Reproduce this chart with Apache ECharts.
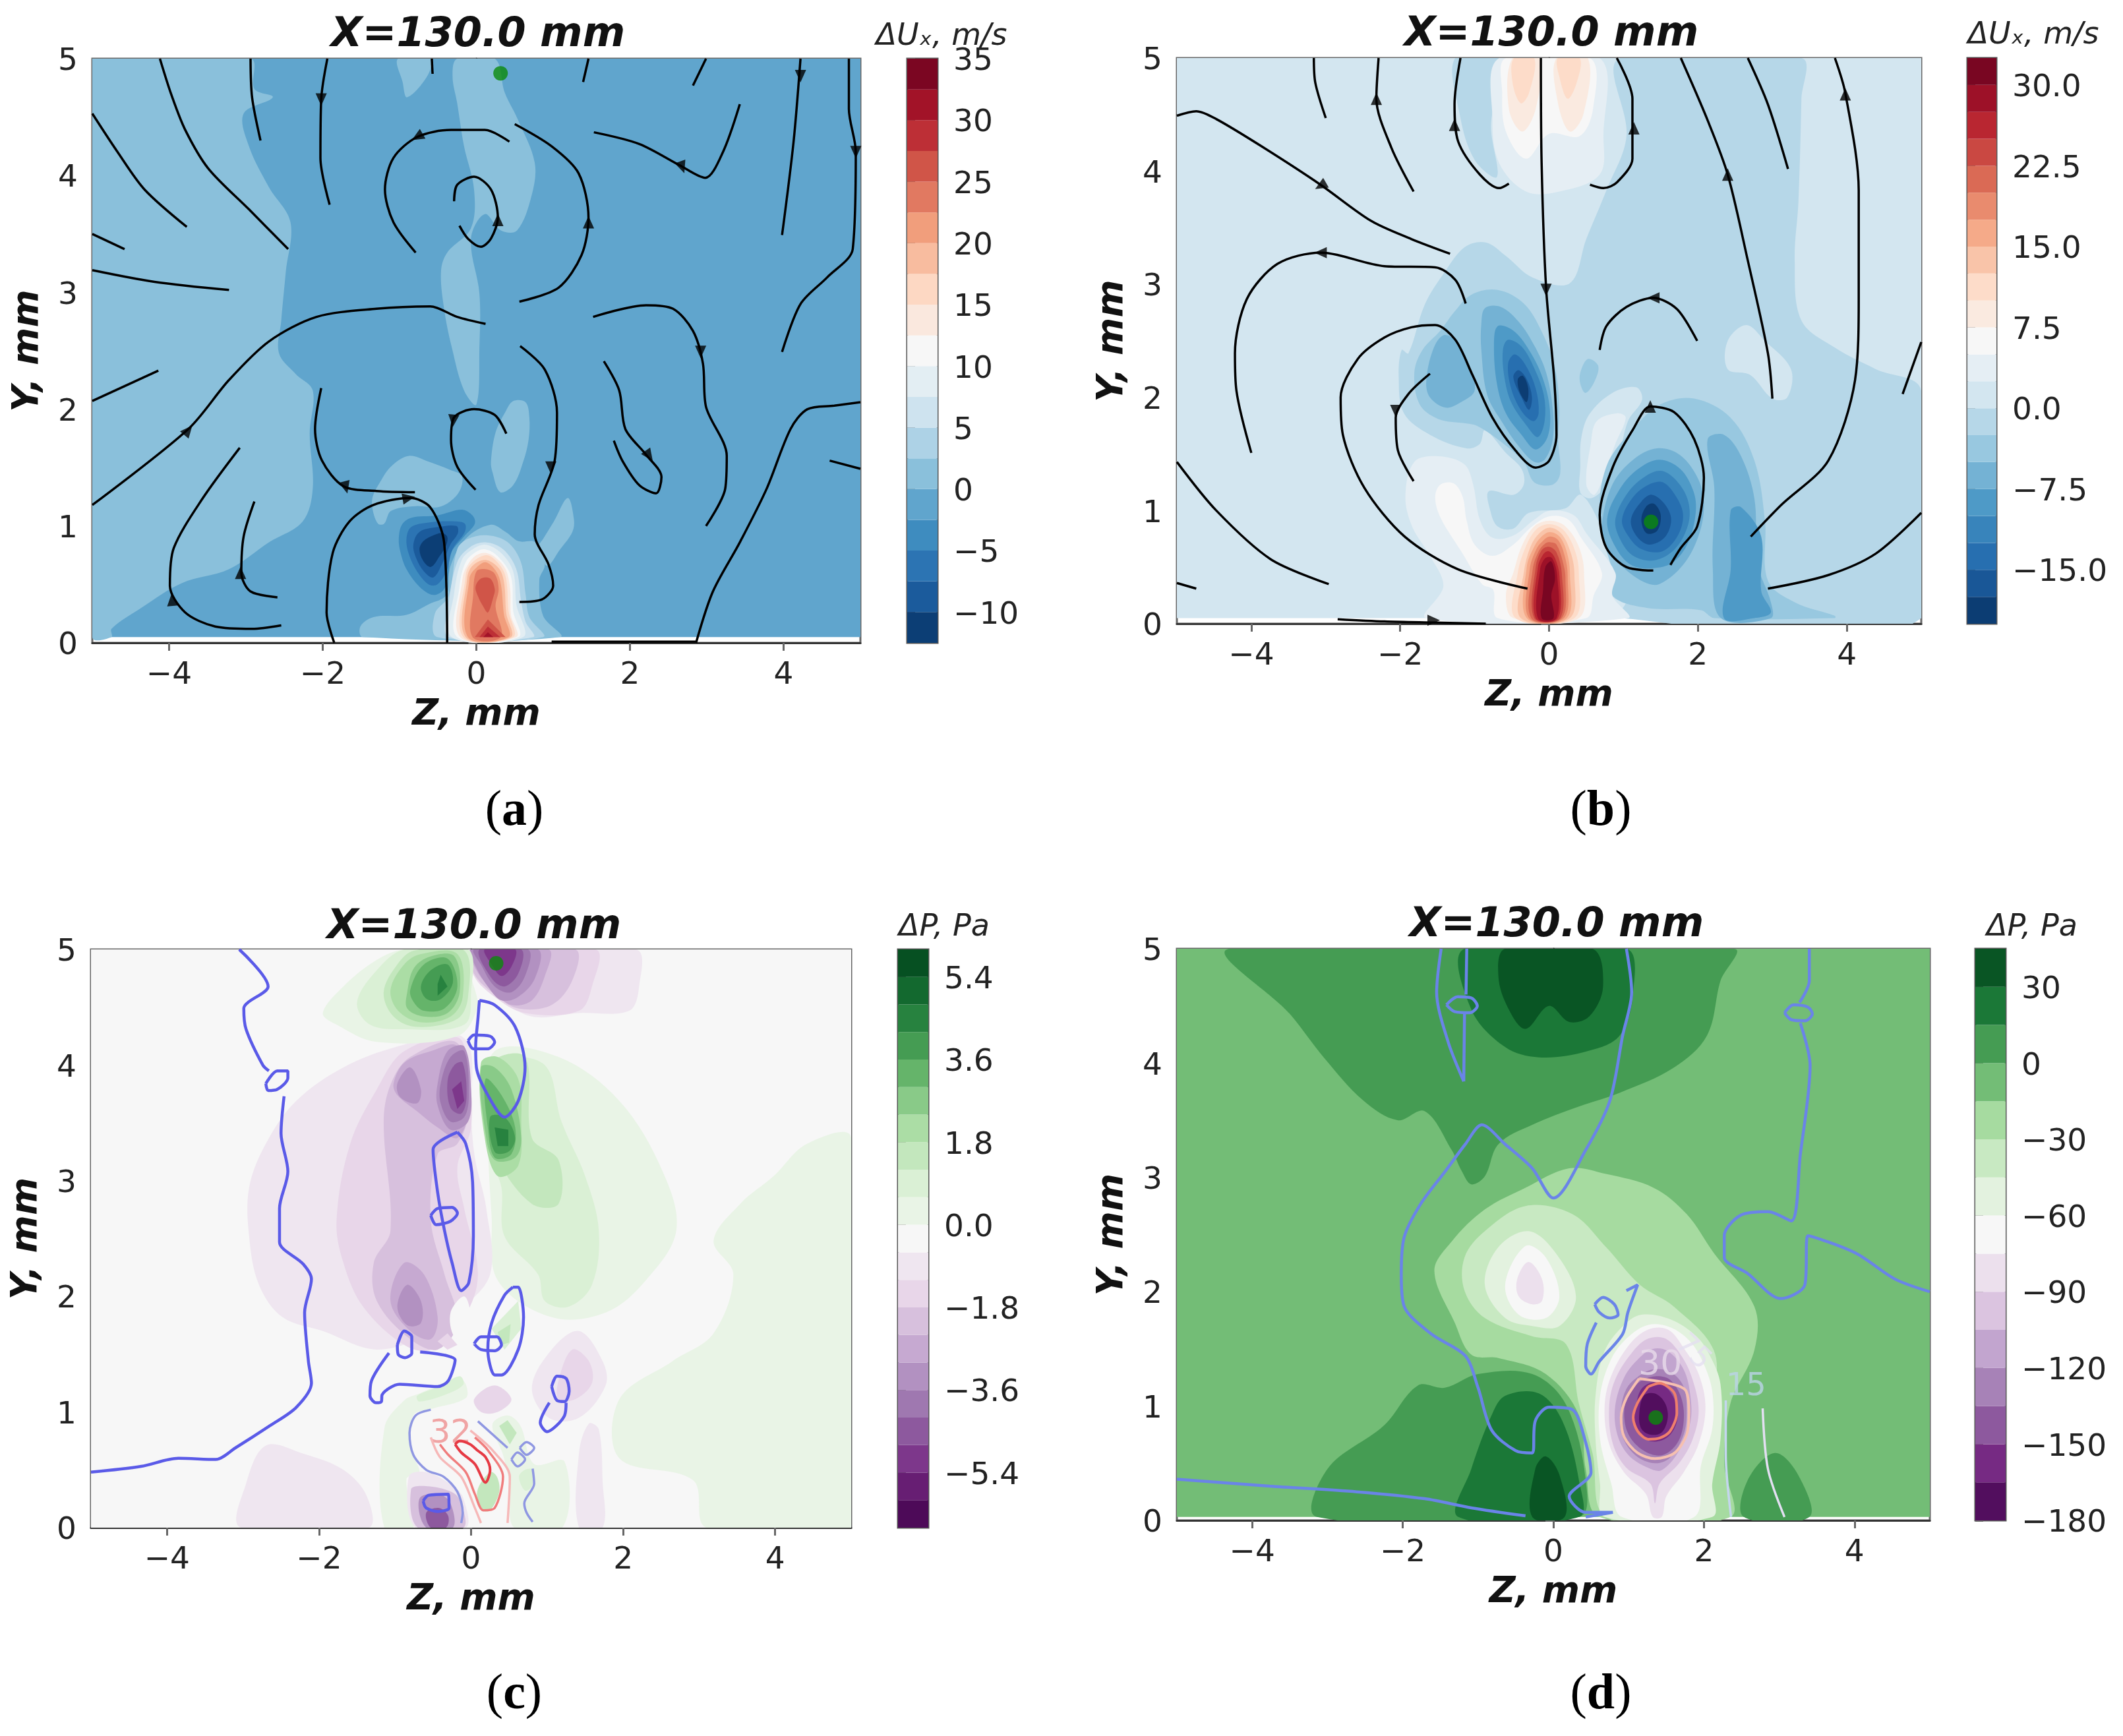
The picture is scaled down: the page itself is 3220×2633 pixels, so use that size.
<!DOCTYPE html>
<html>
<head>
<meta charset="utf-8">
<title>X=130.0 mm</title>
<script src="https://cdn.jsdelivr.net/npm/echarts@6/dist/echarts.min.js"></script>
<style>
html, body { margin: 0; padding: 0; background: #fff; }
#main { width: 3220px; height: 2633px; }
</style>
</head>
<body>
<div id="main"></div>
<script>
// colour maps
const RdBu_r = ['#053061','#2166ac','#4393c3','#92c5de','#d1e5f0','#f7f7f7','#fddbc7','#f4a582','#d6604d','#b2182b','#67001f'];
const PRGn = ['#40004b','#762a83','#9970ab','#c2a5cf','#e7d4e8','#f7f7f7','#d9f0d3','#a6dba0','#5aae61','#1b7837','#00441b'];

// colour bar levels (lower bound of each band) and tick labels
const aLevels = [-12.5,-10,-7.5,-5,-2.5,0,2.5,5,7.5,10,12.5,15,17.5,20,22.5,25,27.5,30,32.5];
const aTicks = [-10,-5,0,5,10,15,20,25,30,35];
const bLevels = [-20,-17.5,-15,-12.5,-10,-7.5,-5,-2.5,0,2.5,5,7.5,10,12.5,15,17.5,20,22.5,25,27.5,30];
const bTicks = [-15,-7.5,0,7.5,15,22.5,30];
const cLevels = [-6.6,-6,-5.4,-4.8,-4.2,-3.6,-3,-2.4,-1.8,-1.2,-0.6,0,0.6,1.2,1.8,2.4,3,3.6,4.2,4.8,5.4];
const cTicks = [-5.4,-3.6,-1.8,0,1.8,3.6,5.4];
const dLevels = [-180,-165,-150,-135,-120,-105,-90,-75,-60,-45,-30,-15,0,15,30];
const dTicks = [-180,-150,-120,-90,-60,-30,0,30];

const zTicks = [-4,-2,0,2,4];
const yTicks = [0,1,2,3,4,5];

// filled contours: [band lower bound, outline in (Z, Y) mm], painted in order
const aBands = [
  [-2.5, [[-5,.05],[5,.05],[5,5],[-5,5]]],
  [0, [[-5,5],[-2.94,5],[-2.89,4.74],[-2.65,4.67],[-3.03,4.53],[-2.96,4.25],[-2.7,3.9],[-2.42,3.6],[-2.48,3.18],[-2.54,2.76],[-2.57,2.48],[-2.35,2.3],[-2.13,2.16],[-2.17,1.79],[-2.13,1.32],[-2.26,1.04],[-2.7,.86],[-3.22,.63],[-3.84,.51],[-4.36,.3],[-4.75,.12],[-4.75,.05],[-5,.05]]],
  [0, [[-.31,4.85],[-.25,5],[.24,5],[.37,4.71],[.54,4.48],[.76,4.11],[.72,3.83],[.53,3.53],[.32,3.53],[.11,3.67],[-.07,3.46],[.04,2.99],[.04,2.53],[0,2.04],[-.16,2.16],[-.32,2.53],[-.42,2.86],[-.46,3.18],[-.38,3.34],[-.07,3.55],[-.03,3.88],[-.16,4.25],[-.25,4.62]]],
  [0, [[-1.02,5],[-.6,5],[-.64,4.85],[-.9,4.67],[-.96,4.8]]],
  [0, [[-1.35,1.25],[-1.25,1.38],[-1.11,1.51],[-.88,1.6],[-.62,1.55],[-.34,1.48],[-.19,1.43],[-.21,1.31],[-.34,1.21],[-.51,1.16],[-.79,1.17],[-1.11,1.13],[-1.2,1.02],[-1.28,1.02],[-1.35,1.14]]],
  [0, [[.48,2.07],[.64,2.06],[.69,1.93],[.68,1.74],[.61,1.55],[.48,1.35],[.31,1.29],[.21,1.46],[.19,1.55],[.25,1.8],[.38,1.98]]],
  [0, [[1.19,1.24],[1.27,1.06],[1.25,.95],[1.09,.8],[.92,.66],[.81,.82],[.87,.89],[1.01,1.04]]],
  [0, [[-1.48,.05],[-1.51,.14],[-1.34,.22],[-.91,.24],[-.62,.33],[-.39,.41],[-.34,.65],[-.14,.89],[.18,1.01],[.38,.95],[.55,.87],[.77,.86],[.89,.67],[.82,.54],[.87,.23],[1.09,.05]]],
  [2.5, [[-.51,.05],[-.54,.25],[-.36,.4],[-.25,.8],[-.11,.89],[.15,.92],[.41,.86],[.58,.69],[.64,.42],[.69,.22],[.87,.05]]],
  [5, [[-.36,.05],[-.36,.33],[-.25,.69],[-.08,.82],[.12,.86],[.35,.8],[.52,.63],[.58,.37],[.64,.18],[.74,.05]]],
  [7.5, [[-.32,.05],[-.29,.42],[-.19,.71],[-.05,.8],[.12,.84],[.32,.77],[.48,.61],[.52,.33],[.61,.05]]],
  [10, [[-.25,.05],[-.22,.48],[-.14,.69],[0,.78],[.12,.8],[.28,.74],[.45,.57],[.48,.27],[.55,.05]]],
  [12.5, [[-.21,.05],[-.18,.55],[-.11,.67],[0,.75],[.12,.77],[.25,.73],[.38,.63],[.44,.46],[.45,.24],[.52,.05]]],
  [15, [[-.17,.05],[-.14,.57],[-.08,.67],[.12,.75],[.26,.7],[.38,.57],[.42,.27],[.48,.05]]],
  [17.5, [[-.14,.05],[-.12,.55],[-.05,.66],[.12,.71],[.29,.64],[.36,.52],[.39,.25],[.45,.05]]],
  [20, [[-.11,.05],[-.09,.55],[-.02,.63],[.12,.69],[.26,.61],[.32,.5],[.36,.24],[.42,.05]]],
  [22.5, [[-.05,.05],[-.04,.42],[0,.61],[.12,.63],[.24,.59],[.29,.46],[.25,.31],[.32,.05]]],
  [25, [[-.01,.48],[.06,.55],[.18,.55],[.24,.46],[.22,.39],[.15,.26],[.09,.31],[.02,.4]]],
  [25, [[-.02,.05],[.15,.2],[.38,.05]]],
  [27.5, [[.04,.05],[.15,.14],[.31,.05]]],
  [30, [[.09,.05],[.15,.09],[.22,.05]]],
  [-5, [[-1.01,.89],[-.97,1.01],[-.85,1.07],[-.51,1.09],[-.19,1.14],[-.05,1.09],[-.02,1.02],[-.16,.91],[-.34,.76],[-.36,.61],[-.42,.46],[-.56,.41],[-.74,.48],[-.91,.63],[-.99,.78]]],
  [-7.5, [[-.91,.89],[-.85,.99],[-.62,1.03],[-.28,1.04],[-.15,1.02],[-.15,.95],[-.31,.8],[-.39,.61],[-.51,.5],[-.62,.5],[-.77,.61],[-.88,.76]]],
  [-10, [[-.82,.84],[-.74,.95],[-.51,.99],[-.26,1],[-.24,.94],[-.34,.84],[-.45,.67],[-.56,.56],[-.68,.61],[-.78,.72]]],
  [-12.5, [[-.74,.8],[-.69,.87],[-.56,.92],[-.45,.94],[-.38,.91],[-.39,.84],[-.48,.74],[-.59,.65],[-.69,.7]]]
];

const bBands = [
  [0, [[-5,.05],[5,.05],[5,5],[-5,5]]],
  [-2.5, [[.95,5],[3.39,5],[3.39,4.64],[3.35,3.73],[3.3,3.21],[3.39,2.68],[3.84,2.44],[4.39,2.25],[5,2.06],[5,.05],[.96,.05],[1.06,.25],[.71,.84],[.43,1.14],[.22,1.02],[-.27,.98],[-.48,.84],[-.69,.86],[-.79,1],[-.81,1.17],[-.48,1.14],[-.34,1.23],[-.37,1.37],[-.58,1.51],[-.86,1.71],[-.93,1.59],[-1.11,1.55],[-1.6,1.67],[-1.95,1.86],[-2.02,2.18],[-1.98,2.42],[-1.89,2.39],[-1.67,2.82],[-1.4,3.11],[-1.13,3.33],[-.85,3.37],[-.58,3.25],[-.22,3.06],[.28,3.01],[.5,3.4],[.77,3.83],[1.04,4.31]]],
  [-2.5, [[-1.26,5],[-.67,5],[-.78,4.4],[-.7,3.95],[-1,4.1],[-1.2,4.5]]],
  [2.5, [[-.67,5],[.68,5],[.73,4.31],[.68,3.97],[.14,3.82],[-.31,3.82],[-.67,4.07],[-.76,4.45]]],
  [5, [[-.58,5],[.55,5],[.59,4.55],[.41,4.31],[0,4.33],[-.31,4.11],[-.58,4.35],[-.63,4.69]]],
  [7.5, [[-.49,5],[-.13,5],[-.18,4.55],[-.36,4.35],[-.54,4.55]]],
  [7.5, [[.1,5],[.52,5],[.46,4.5],[.28,4.35],[.12,4.6]]],
  [10, [[-.47,5],[-.2,5],[-.27,4.69],[-.38,4.6],[-.49,4.78]]],
  [10, [[.12,5],[.41,5],[.37,4.78],[.25,4.64],[.14,4.83]]],
  [0, [[.43,1.63],[.54,1.85],[.85,2.04],[1.17,2.09],[1.25,1.98],[1.06,1.79],[.92,1.43],[.78,1.23],[.57,1.11],[.42,1.16],[.42,1.39]]],
  [2.5, [[.56,1.59],[.64,1.79],[.92,1.86],[1.03,1.82],[.89,1.59],[.75,1.33],[.61,1.14],[.5,1.23]]],
  [0, [[2.4,2.5],[2.65,2.64],[2.9,2.5],[3.25,2.25],[3.2,2],[3,1.99],[2.7,2.2],[2.4,2.25]]],
  [-5, [[1.5,1.94],[1.95,1.99],[2.44,1.82],[2.76,1.44],[2.9,.91],[2.94,.38],[3.3,.19],[3.84,.07],[3.84,.05],[2.22,.05],[2.04,.12],[1.31,.14],[.86,.24],[.86,.43],[.68,.91],[.77,1.39],[1.13,1.72]]],
  [-7.5, [[2.13,1.63],[2.35,1.67],[2.58,1.48],[2.76,1.1],[2.8,.53],[2.98,.19],[2.98,.05],[2.31,.05],[2.2,.48],[2.22,1.2]]],
  [-10, [[2.44,1],[2.58,1.03],[2.85,.77],[2.85,.29],[2.98,.1],[2.76,.05],[2.35,.05],[2.44,.48]]],
  [2.5, [[-1.65,.05],[-1.42,.33],[-1.6,.6],[-1.84,.86],[-1.93,1.13],[-1.81,1.43],[-1.49,1.48],[-1.14,1.41],[-1.02,1.23],[-.93,.92],[-.76,.76],[-.48,.78],[-.2,.92],[.01,1],[.33,.96],[.5,.8],[.89,.45],[.85,.25],[1.06,.05]]],
  [5, [[-1.53,1.12],[-1.46,1.23],[-1.28,1.24],[-1.16,1.12],[-1.11,.92],[-1,.7],[-.76,.6],[-.48,.7],[-.23,.86],[.01,.95],[.26,.92],[.43,.76],[.71,.45],[.6,.25],[.5,.05],[-.69,.05],[-.75,.3],[-.9,.35],[-1.18,.64],[-1.46,.94]]],
  [7.5, [[-.58,.25],[-.48,.45],[-.37,.68],[-.2,.86],[.01,.91],[.22,.86],[.4,.68],[.47,.45],[.4,.05],[-.48,.05]]],
  [10, [[-.45,.05],[-.42,.45],[-.3,.7],[-.16,.84],[.01,.88],[.19,.83],[.34,.66],[.4,.45],[.34,.05]]],
  [12.5, [[-.38,.05],[-.34,.45],[-.25,.68],[-.13,.8],[.01,.85],[.16,.8],[.28,.65],[.34,.45],[.28,.05]]],
  [15, [[-.3,.05],[-.3,.5],[-.2,.68],[-.1,.77],[.01,.81],[.14,.77],[.24,.63],[.28,.45],[.24,.05]]],
  [17.5, [[-.27,.05],[-.26,.48],[-.17,.66],[-.07,.74],[.01,.77],[.12,.74],[.21,.6],[.25,.42],[.2,.05]]],
  [20, [[-.24,.05],[-.22,.48],[-.14,.64],[-.05,.71],[.02,.72],[.1,.7],[.18,.56],[.22,.4],[.17,.05]]],
  [22.5, [[-.2,.05],[-.18,.5],[-.1,.65],[0,.68],[.1,.63],[.17,.45],[.15,.05]]],
  [25, [[-.18,.05],[-.15,.5],[-.07,.62],[0,.64],[.08,.58],[.14,.42],[.12,.05]]],
  [27.5, [[-.15,.05],[-.12,.48],[-.05,.58],[.04,.58],[.11,.42],[.1,.05]]],
  [30, [[-.1,.05],[-.08,.3],[-.05,.5],[.03,.55],[.08,.4],[.03,.25],[.06,.05]]],
  [-5, [[-1.28,2.75],[-1.04,2.91],[-.69,2.95],[-.34,2.83],[-.09,2.57],[.08,2.26],[.14,1.9],[.12,1.63],[.15,1.33],[.05,1.23],[-.2,1.25],[-.34,1.43],[-.69,1.63],[-.97,1.75],[-1.11,1.77],[-1.49,1.81],[-1.74,1.94],[-1.81,2.22],[-1.7,2.42],[-1.46,2.59]]],
  [-7.5, [[-1.56,2.42],[-1.42,2.55],[-1.25,2.5],[-1.07,2.28],[-1,2.06],[-1.18,1.96],[-1.39,1.91],[-1.6,2],[-1.65,2.14]]],
  [-7.5, [[-.91,2.65],[-.86,2.79],[-.65,2.8],[-.41,2.67],[-.2,2.46],[-.04,2.22],[.05,1.9],[.05,1.63],[-.06,1.45],[-.2,1.43],[-.41,1.57],[-.62,1.77],[-.83,2.02],[-.91,2.42]]],
  [-10, [[-.74,2.47],[-.69,2.63],[-.48,2.59],[-.27,2.42],[-.09,2.18],[.01,1.9],[-.02,1.65],[-.18,1.54],[-.37,1.67],[-.58,1.86],[-.7,2.12]]],
  [-12.5, [[-.62,2.42],[-.55,2.51],[-.37,2.45],[-.2,2.26],[-.07,2.02],[-.06,1.79],[-.15,1.65],[-.3,1.75],[-.51,1.96],[-.6,2.18]]],
  [-15, [[-.55,2.3],[-.46,2.38],[-.32,2.29],[-.18,2.08],[-.14,1.86],[-.21,1.79],[-.37,1.88],[-.51,2.08]]],
  [-17.5, [[-.48,2.18],[-.41,2.24],[-.3,2.16],[-.23,2],[-.27,1.89],[-.37,2]]],
  [-20, [[-.42,2.16],[-.35,2.19],[-.28,2.08],[-.3,1.96],[-.39,2.04]]],
  [-5, [[.42,2.22],[.52,2.34],[.66,2.28],[.61,2.14],[.49,2.04],[.42,2.12]]],
  [-7.5, [[.71,.88],[.85,1.23],[1.13,1.45],[1.45,1.55],[1.76,1.49],[2.01,1.27],[2.08,1.04],[2.01,.78],[1.8,.52],[1.48,.35],[1.27,.37],[.96,.52],[.75,.7]]],
  [-10, [[.78,.92],[.96,1.2],[1.2,1.37],[1.48,1.45],[1.76,1.37],[1.94,1.17],[1.97,.98],[1.87,.72],[1.66,.54],[1.38,.49],[1.1,.52],[.89,.68]]],
  [-12.5, [[.89,.92],[1.06,1.16],[1.31,1.31],[1.52,1.35],[1.73,1.25],[1.87,1.08],[1.87,.88],[1.69,.66],[1.41,.56],[1.13,.6],[.96,.74]]],
  [-15, [[.98,.92],[1.13,1.12],[1.34,1.23],[1.53,1.25],[1.71,1.12],[1.8,.96],[1.73,.78],[1.52,.64],[1.24,.66],[1.06,.78]]],
  [-17.5, [[1.1,.92],[1.24,1.08],[1.38,1.14],[1.55,1.06],[1.64,.92],[1.55,.76],[1.34,.7],[1.17,.78]]],
  [-20, [[1.24,.92],[1.31,1.04],[1.41,1.06],[1.5,.96],[1.45,.82],[1.31,.8]]]
];

const cBands = [
  [-0.6, [[-5,0],[5,0],[5,5],[-5,5]]],
  [0, [[3.19,2.48],[3.54,2.8],[3.98,3.04],[4.42,3.32],[5,3.37],[5,0],[3.1,0],[2.92,.41],[1.95,.6],[1.95,1.11],[2.65,1.44],[3.19,1.68],[3.45,2.19]]],
  [-1.2, [[-2.7,.71],[-2.21,.64],[-1.68,.5],[-1.37,.27],[-1.35,0],[-3.03,0],[-2.96,.38]]],
  [-1.2, [[1.42,.65],[1.55,.9],[1.68,.85],[1.73,.4],[1.73,0],[1.42,0]]],
  [0, [[.31,4.12],[1.15,4.07],[1.95,3.69],[2.52,3.08],[2.7,2.57],[2.3,2.14],[1.77,1.86],[1.06,1.82],[.35,2.14],[.27,2.69],[.22,3.55]]],
  [.6, [[.44,4.02],[.97,4],[1.19,3.51],[1.5,3.04],[1.68,2.57],[1.59,2.1],[1.28,1.91],[.97,1.96],[.88,2.19],[.44,2.52],[.4,2.94],[.27,3.23]]],
  [1.2, [[.27,4.02],[.71,4.07],[.8,3.37],[1.15,3.18],[1.15,2.8],[.8,2.8],[.35,3.18],[.22,3.51]]],
  [1.8, [[.13,4.02],[.35,4.07],[.62,3.88],[.66,3.51],[.62,3.13],[.35,3.04],[.18,3.37]]],
  [2.4, [[.13,3.98],[.31,3.98],[.53,3.79],[.66,3.37],[.58,3.2],[.31,3.18],[.19,3.41]]],
  [3, [[.19,3.88],[.4,3.74],[.58,3.46],[.53,3.23],[.31,3.2],[.22,3.46]]],
  [3.6, [[.25,3.55],[.44,3.55],[.58,3.37],[.49,3.25],[.31,3.25]]],
  [4.2, [[.31,3.46],[.49,3.44],[.49,3.3],[.35,3.3]]],
  [-1.2, [[-2.92,2.94],[-2.7,3.32],[-2.3,3.69],[-1.68,3.98],[-.97,4.16],[-.18,4.26],[0,4.12],[0,3.6],[.05,3.2],[.2,2.76],[.25,2.19],[-.18,1.86],[-.53,1.68],[-1.24,1.54],[-1.95,1.7],[-2.48,1.82],[-2.79,2.1],[-2.92,2.52]]],
  [-1.8, [[-1.77,2.66],[-1.59,3.32],[-1.24,3.79],[-.88,4.12],[-.18,4.24],[-.04,3.98],[0,3.46],[-.18,3.12],[-.09,2.76],[.09,2.19],[-.09,1.82],[-.53,1.54],[-.88,1.58],[-1.42,1.91],[-1.68,2.29]]],
  [-2.4, [[-1.15,3.5],[-1.06,3.83],[-.8,4.07],[-.18,4.19],[-.04,3.6],[-.18,3.32],[-.44,3.23],[-.53,2.66],[-.35,2.19],[-.18,1.77],[-.44,1.54],[-.8,1.63],[-1.24,1.96],[-1.28,2.29],[-1.06,2.57]]],
  [-3, [[-1.06,1.96],[-.88,2.29],[-.62,2.19],[-.44,1.82],[-.53,1.63],[-.8,1.7]]],
  [-3.6, [[-.97,1.91],[-.84,2.1],[-.66,1.96],[-.66,1.77],[-.84,1.75]]],
  [-3, [[-1.02,3.84],[-.88,4.02],[-.53,4.12],[-.18,4.16],[-.04,3.6],[-.18,3.37],[-.44,3.46],[-.71,3.6],[-.97,3.74]]],
  [-3.6, [[-.97,3.84],[-.8,3.98],[-.66,3.79],[-.71,3.67],[-.93,3.72]]],
  [-3.6, [[-.44,3.84],[-.31,4.12],[-.09,4.16],[0,3.79],[-.04,3.51],[-.27,3.44],[-.44,3.65]]],
  [-4.2, [[-.4,3.84],[-.27,4.07],[-.09,4.12],[-.03,3.74],[-.09,3.55],[-.27,3.51],[-.4,3.67]]],
  [-4.8, [[-.31,3.86],[-.22,4],[-.11,4.02],[-.06,3.72],[-.13,3.58],[-.27,3.63]]],
  [-5.4, [[-.25,3.79],[-.13,3.86],[-.09,3.69],[-.18,3.62]]],
  [-1.2, [[0,5],[2.17,5],[2.21,4.68],[2.08,4.47],[1.42,4.45],[.8,4.42],[.35,4.59],[.04,4.77]]],
  [-1.8, [[0,5],[1.64,5],[1.59,4.68],[1.42,4.47],[.71,4.45],[.31,4.59],[.04,4.77]]],
  [-2.4, [[0,5],[1.37,5],[1.33,4.73],[1.06,4.52],[.62,4.49],[.31,4.61],[.04,4.79]]],
  [-3, [[0,5],[1.02,5],[.97,4.77],[.8,4.56],[.53,4.52],[.31,4.63],[.07,4.82]]],
  [-3.6, [[0,5],[.88,5],[.84,4.75],[.62,4.59],[.4,4.56],[.22,4.68],[.07,4.84]]],
  [-4.2, [[.04,5],[.75,5],[.71,4.77],[.53,4.63],[.31,4.68],[.13,4.87]]],
  [-4.8, [[.11,5],[.66,5],[.62,4.79],[.44,4.68],[.27,4.75]]],
  [-5.4, [[.18,5],[.58,5],[.53,4.85],[.4,4.77],[.27,4.87]]],
  [0, [[-1.95,4.45],[-1.68,4.68],[-1.24,4.91],[-.88,5],[-.04,5],[0,4.77],[.08,4.5],[-.18,4.25],[-1.24,4.2],[-1.77,4.35]]],
  [.6, [[-1.5,4.54],[-1.24,4.82],[-.88,5],[-.04,5],[0,4.63],[-.09,4.35],[-.88,4.31],[-1.33,4.35]]],
  [1.2, [[-1.15,4.63],[-.97,4.87],[-.75,4.99],[-.09,4.99],[-.04,4.59],[-.18,4.4],[-.71,4.33],[-1.02,4.42]]],
  [1.8, [[-1.06,4.65],[-.88,4.87],[-.66,4.96],[-.18,4.96],[-.11,4.59],[-.27,4.42],[-.66,4.37],[-.96,4.47]]],
  [2.4, [[-.84,4.63],[-.75,4.84],[-.53,4.94],[-.22,4.94],[-.15,4.63],[-.31,4.45],[-.62,4.42],[-.84,4.49]]],
  [3, [[-.8,4.65],[-.62,4.87],[-.31,4.92],[-.18,4.68],[-.35,4.49],[-.62,4.47],[-.75,4.54]]],
  [3.6, [[-.66,4.68],[-.53,4.82],[-.31,4.87],[-.24,4.71],[-.4,4.57],[-.58,4.57]]],
  [4.2, [[-.44,4.7],[-.4,4.78],[-.31,4.68],[-.44,4.6]]],
  [-0.6, [[-.27,1.86],[-.09,2],[0,1.82],[-.04,1.63],[-.22,1.65]]],
  [-1.2, [[.8,1.21],[1.06,1.54],[1.42,1.7],[1.73,1.44],[1.77,1.23],[1.42,.95],[1.02,.95]]],
  [-1.8, [[1.15,1.27],[1.33,1.54],[1.55,1.44],[1.59,1.25],[1.37,1.11],[1.15,1.11]]],
  [-1.8, [[.04,1.11],[.31,1.23],[.53,1.11],[.35,1],[.13,1]]],
  [-1.8, [[-.44,1.61],[-.31,1.68],[-.18,1.58],[-.31,1.54]]],
  [.6, [[.27,1.72],[.62,1.96],[.66,1.72],[.44,1.54]]],
  [1.2, [[.35,1.69],[.52,1.76],[.5,1.6],[.4,1.58]]],
  [0, [[-1.14,0],[-1.14,.86],[-.88,1.1],[-.68,1.16],[-.18,1.29],[-.07,1.24],[-.07,1.12],[-.5,1.03],[-.76,.97],[-.79,.67],[-.68,.48],[-.85,.42],[-.76,0]]],
  [.6, [[-.71,1.14],[-.42,1.22],[-.15,1.31],[-.1,1.24],[-.3,1.16],[-.68,1.09]]],
  [0, [[.28,.89],[.48,.97],[.65,.88],[.83,.55],[1.23,.57],[1.2,0],[.57,0],[.51,.36],[.42,.63]]],
  [1.2, [[.37,.88],[.48,.93],[.6,.82],[.51,.72]]],
  [.6, [[.71,.5],[.81,.5],[.8,.36],[.71,.32],[.63,.44]]],
  [-1.2, [[-.82,.44],[-.59,.48],[-.24,.36],[-.1,.25],[-.07,0],[-.73,0]]],
  [-2.4, [[-.79,.33],[-.62,.36],[-.3,.32],[-.16,.25],[-.1,0],[-.7,0]]],
  [-3.6, [[-.68,.25],[-.42,.29],[-.27,.21],[-.24,0],[-.59,0]]],
  [-4.8, [[-.59,.13],[-.42,.17],[-.3,.1],[-.33,0],[-.53,0]]],
  [1.2, [[.08,.31],[.25,.48],[.34,.44],[.37,.31],[.25,.15],[.16,.15]]]
];

const dBands = [
  [-15, [[-5,.03],[5,.03],[5,5],[-5,5]]],
  [0, [[-4.3,5],[2.4,5],[2.22,4.72],[2.04,4.24],[1.6,3.96],[.88,3.74],[.34,3.62],[-.28,3.46],[-.73,3.29],[-.91,3.01],[-1.09,2.94],[-1.22,3.06],[-1.35,3.24],[-1.71,3.58],[-2.07,3.5],[-2.52,3.67],[-3.05,4.05],[-3.5,4.43]]],
  [15, [[-1.18,5],[.97,5],[1.06,4.62],[.88,4.24],[.43,4.1],[-.19,4.05],[-.64,4.14],[-1.09,4.47]]],
  [30, [[-.64,5],[.52,5],[.66,4.67],[.48,4.41],[.21,4.36],[-.06,4.5],[-.37,4.3],[-.6,4.48],[-.73,4.76]]],
  [0, [[-3.14,.03],[-3,.45],[-2.25,.83],[-1.8,1.18],[-1.44,1.16],[-1,1.28],[-.28,1.28],[.17,1.01],[.43,.35],[.34,.03]]],
  [15, [[-1.26,.03],[-1.09,.45],[-.82,.92],[-.64,1.09],[-.19,1.11],[.12,.87],[.34,.35],[.34,.03]]],
  [30, [[-.28,.03],[-.24,.45],[-.1,.56],[.08,.4],[.15,.03]]],
  [0, [[2.53,.03],[2.58,.35],[2.94,.59],[3.25,.4],[3.4,.03]]],
  [-30, [[.21,3.08],[.7,3.03],[1.33,2.91],[1.77,2.68],[2.13,2.34],[2.67,1.87],[2.67,1.49],[2.35,1.02],[2.27,.49],[2.35,.03],[.61,.03],[.43,.45],[.34,.92],[-.1,1.28],[-.73,1.42],[-1.09,1.45],[-1.31,1.73],[-1.58,2.18],[-1.35,2.44],[-.91,2.72],[-.37,2.91]]],
  [-45, [[-1.18,2.3],[-.91,2.53],[-.37,2.75],[.25,2.68],[.7,2.39],[1.15,2.06],[1.6,1.87],[2.13,1.49],[2.13,1.06],[2,.59],[2.04,.03],[.7,.03],[.52,.59],[.34,1.02],[.17,1.54],[-.28,1.61],[-.91,1.77],[-1.18,2.01]]],
  [-60, [[-.91,2.06],[-.73,2.39],[-.33,2.53],[.03,2.34],[.3,1.96],[.08,1.7],[-.28,1.7],[-.64,1.77]]],
  [-75, [[-.64,2.06],[-.37,2.4],[-.1,2.3],[.08,1.96],[-.1,1.77],[-.46,1.8]]],
  [-90, [[-.48,2.11],[-.33,2.26],[-.15,2.11],[-.15,1.92],[-.28,1.89],[-.46,1.96]]],
  [-60, [[.94,1.71],[1.17,1.8],[1.55,1.76],[1.9,1.61],[2.08,1.44],[2.22,1.19],[2.22,.71],[2.11,.32],[2.11,.03],[.68,.03],[.62,.32],[.56,.71],[.56,1.09],[.68,1.48]]],
  [-75, [[.97,1.59],[1.26,1.71],[1.55,1.69],[1.81,1.57],[1.99,1.38],[2.11,1.13],[2.11,.8],[1.96,.48],[1.87,.03],[.91,.03],[.77,.32],[.62,.71],[.62,1.09],[.76,1.4]]],
  [-90, [[1,1.53],[1.26,1.67],[1.52,1.67],[1.73,1.51],[1.93,1.28],[2.02,.99],[1.93,.67],[1.73,.42],[1.5,.21],[1.44,.03],[1.32,.03],[1.23,.23],[.94,.42],[.74,.67],[.68,.98],[.76,1.25]]],
  [-105, [[1.06,1.48],[1.26,1.59],[1.49,1.59],[1.7,1.44],[1.85,1.23],[1.93,.96],[1.85,.71],[1.67,.5],[1.41,.32],[1.35,.15],[1.29,.32],[.97,.46],[.79,.67],[.74,.98],[.82,1.23]]],
  [-120, [[1.14,1.42],[1.32,1.5],[1.52,1.48],[1.73,1.32],[1.82,1.09],[1.82,.86],[1.67,.61],[1.44,.44],[1.26,.46],[1,.57],[.85,.75],[.82,.99],[.94,1.25]]],
  [-135, [[1.11,1.25],[1.32,1.32],[1.55,1.3],[1.73,1.17],[1.77,.96],[1.73,.75],[1.55,.55],[1.35,.5],[1.09,.57],[.91,.75],[.9,.98],[.97,1.15]]],
  [-150, [[1.14,1.21],[1.35,1.26],[1.55,1.23],[1.7,1.07],[1.73,.86],[1.64,.67],[1.44,.57],[1.2,.61],[1,.75],[.94,.94],[1,1.11]]],
  [-165, [[1.09,.98],[1.17,1.15],[1.35,1.21],[1.52,1.15],[1.64,1],[1.64,.86],[1.52,.73],[1.32,.69],[1.14,.75],[1.06,.86]]],
  [-180, [[1.14,.92],[1.2,1.09],[1.35,1.11],[1.48,1.03],[1.52,.9],[1.44,.77],[1.29,.75],[1.17,.8]]]
];

// streamlines in (Z, Y) mm and their arrow heads [Z, Y, angle in degrees]
const aStreams = [
  [[-4.12,5],[-3.97,4.69],[-3.79,4.39],[-3.49,4.06],[-2.96,3.71],[-2.45,3.37]],
  [[-5,4.53],[-4.67,4.2],[-4.32,3.88],[-3.77,3.56]],
  [[-5,3.5],[-4.58,3.37]],
  [[-5,3.19],[-4.19,3.09],[-3.22,3.02]],
  [[-5,2.07],[-4.14,2.33]],
  [[-5,1.18],[-3.75,1.83],[-3.22,2.25],[-2.7,2.58],[-2.08,2.79],[-1.3,2.86],[-.6,2.88],[-.25,2.79],[.12,2.73]],
  [[-2.94,5],[-2.92,4.67],[-2.81,4.3]],
  [[-1.94,5],[-2.02,4.65],[-2.03,4.15],[-1.91,3.75]],
  [[-.58,5],[-.57,4.87]],
  [[.43,4.29],[.11,4.39],[-.33,4.39],[-.77,4.33],[-1.08,4.15],[-1.19,3.88],[-1.08,3.6],[-.79,3.34]],
  [[-.29,3.78],[-.25,3.92],[-.03,3.99],[.19,3.88],[.28,3.64],[.19,3.46],[.06,3.39],[-.11,3.46],[-.22,3.57]],
  [[.5,4.44],[.98,4.25],[1.33,4.02],[1.46,3.64],[1.37,3.32],[1.07,3.04],[.56,2.92]],
  [[1.53,4.37],[2.12,4.27],[2.64,4.09],[2.98,3.98],[3.21,4.2],[3.43,4.61]],
  [[1.46,5],[1.39,4.8]],
  [[2.99,5],[2.82,4.77]],
  [[4.22,5],[4.13,4.29],[3.98,3.49]],
  [[4.85,5],[4.85,4.57],[4.94,4.2],[4.9,3.37],[4.57,3.13],[4.22,2.9],[3.98,2.49]],
  [[1.52,2.79],[2.21,2.89],[2.56,2.86],[2.82,2.67],[2.95,2.39],[2.99,2.02],[3.26,1.6],[3.24,1.32],[2.99,1]],
  [[1.66,2.41],[1.86,2.16],[1.94,1.83],[2.21,1.61],[2.41,1.42],[2.34,1.28],[2.12,1.35],[1.9,1.56],[1.79,1.73]],
  [[.57,2.54],[.89,2.34],[1.05,1.97],[1.02,1.56],[.81,1.18],[.76,.93],[.94,.67],[1,.49],[.85,.37],[.56,.35]],
  [[-2.02,2.18],[-2.1,1.83],[-2.01,1.56],[-1.73,1.34],[-1.3,1.3],[-.8,1.29]],
  [[-1.85,0],[-1.95,.26],[-1.87,.77],[-1.65,1.04],[-1.34,1.18],[-.86,1.24],[-.6,1.16],[-.42,.86],[-.38,0]],
  [[-3.08,1.67],[-3.57,1.23],[-3.94,.81],[-3.99,.49],[-3.79,.26],[-3.4,.14],[-2.92,.12],[-2.54,.15]],
  [[-2.89,1.21],[-3.03,.91],[-3.06,.6],[-2.94,.44],[-2.59,.39]],
  [[.39,1.79],[.24,1.95],[-.03,2],[-.29,1.93],[-.33,1.74],[-.25,1.51],[-.01,1.31]],
  [[2.86,0],[3.08,.44],[3.43,.86],[3.78,1.32],[4.09,1.83],[4.31,2],[4.66,2.03],[5,2.06]],
  [[.98,.01],[2.86,.01]],
  [[4.6,1.56],[5,1.49]]
];
const aArrows = [[-3.75,1.82,-40],[-2.02,4.65,180],[-.77,4.33,120],[.28,3.62,0],[1.46,3.6,0],[2.68,4.07,200],[4.22,4.85,180],[4.94,4.2,180],[2.92,2.49,180],[2.25,1.6,215],[.97,1.5,180],[-1.7,1.33,195],[-.88,1.24,-80],[-3.96,.37,5],[-3.07,.6,0],[-.3,1.9,175]];

const bStreams = [
  [[-5,4.49],[-4.74,4.53],[-4.47,4.46],[-3.84,4.21],[-3.07,3.88],[-2.39,3.56],[-1.85,3.4],[-1.33,3.27]],
  [[-3.16,5],[-3.14,4.78],[-3,4.47]],
  [[-2.29,5],[-2.32,4.64],[-2.12,4.21],[-1.82,3.82]],
  [[-1.19,5],[-1.27,4.59],[-1.22,4.26],[-.93,3.97],[-.67,3.85],[-.54,3.89]],
  [[.91,5],[1.12,4.64],[1.12,4.11],[.91,3.9],[.73,3.85],[.55,3.88]],
  [[-.11,5],[-.1,4.07],[-.04,2.97],[.07,2.15],[.1,1.67],[0,1.44],[-.18,1.38],[-.45,1.53],[-.76,1.82],[-1.03,2.2],[-1.26,2.51],[-1.53,2.64],[-1.85,2.62],[-2.21,2.53],[-2.57,2.34],[-2.8,2],[-2.77,1.67],[-2.48,1.2],[-1.94,.77],[-1.22,.48],[-.29,.31]],
  [[-1.12,2.83],[-1.26,3.04],[-1.53,3.15],[-2.21,3.16],[-3.07,3.28],[-3.65,3.18],[-4.06,2.87],[-4.22,2.39],[-4.2,2.06],[-4,1.51]],
  [[-1.6,2.21],[-1.89,2.03],[-2.06,1.82],[-2.03,1.53],[-1.82,1.26]],
  [[-5,1.43],[-4.47,1],[-3.74,.57],[-2.96,.35]],
  [[-5,.36],[-4.74,.31]],
  [[-2.84,.04],[-2.21,.02],[-1.53,.01],[-.85,0]],
  [[.68,2.42],[.77,2.63],[1.04,2.8],[1.4,2.88],[1.72,2.78],[1.99,2.5]],
  [[1.4,.47],[1.04,.5],[.77,.67],[.68,.96],[.86,1.39],[1.13,1.72],[1.36,1.92],[1.68,1.87],[1.95,1.63],[2.08,1.29],[1.99,.86],[1.77,.67],[1.63,.52]],
  [[1.77,5],[2.13,4.45],[2.4,3.97],[2.67,3.21],[2.94,2.39],[3,1.99]],
  [[2.67,5],[2.94,4.59],[3.21,4.02]],
  [[3.84,5],[3.98,4.69],[4.16,3.83],[4.16,2.87],[4.11,2.15],[3.75,1.44],[3.12,1.05],[2.71,.77]],
  [[5,2.49],[4.75,2.03]],
  [[2.94,.31],[3.75,.43],[4.39,.62],[5,.98]]
];
const bArrows = [[-3.07,3.87,120],[-2.32,4.64,0],[-1.27,4.41,0],[1.14,4.38,0],[-.04,2.95,180],[-3.07,3.28,90],[-2.06,1.88,180],[-1.55,.03,-90],[1.4,2.88,90],[1.36,1.92,0],[2.4,3.97,0],[3.98,4.68,0]];

// pressure panels: pale to strong contour lines
const cBlue = [
  [[-3.05,5],[-2.67,4.68],[-2.99,4.49],[-2.96,4.31],[-2.74,4],[-2.66,3.95]],
  [[-2.7,3.84],[-2.55,3.95],[-2.41,3.95],[-2.41,3.89],[-2.55,3.79],[-2.67,3.78],[-2.7,3.84]],
  [[-2.46,3.73],[-2.5,3.41],[-2.41,3.08],[-2.52,2.76],[-2.52,2.47],[-2.21,2.28],[-2.1,2.15],[-2.19,1.86],[-2.14,1.44],[-2.1,1.25],[-2.3,1.04],[-2.65,.88],[-3.1,.69],[-3.36,.59],[-3.85,.6],[-4.34,.53],[-5,.48]],
  [[.11,4.56],[.31,4.52],[.58,4.33],[.71,3.98],[.62,3.69],[.44,3.55],[.22,3.74],[.07,3.98],[.06,4.16],[.09,4.4],[.11,4.56]],
  [[-.04,4.21],[.04,4.26],[.25,4.25],[.31,4.2],[.22,4.14],[.03,4.14],[-.04,4.21]],
  [[-.18,3.42],[-.5,3.27],[-.44,2.9],[-.35,2.57],[-.25,2.29],[-.13,2.05],[-.03,2.12],[.03,2.52],[.02,2.99],[-.07,3.32],[-.18,3.42]],
  [[-.53,2.7],[-.44,2.76],[-.25,2.77],[-.18,2.72],[-.27,2.65],[-.46,2.62],[-.53,2.7]],
  [[.55,2.08],[.62,2.08],[.69,1.82],[.62,1.54],[.4,1.32],[.31,1.32],[.22,1.54],[.27,1.77],[.44,2.01],[.55,2.08]],
  [[.04,1.59],[.13,1.65],[.34,1.65],[.4,1.58],[.31,1.53],[.13,1.54],[.04,1.59]],
  [[-.97,1.58],[-.88,1.7],[-.78,1.65],[-.78,1.51],[-.87,1.47],[-.96,1.5],[-.97,1.58]],
  [[-1.08,1.51],[-1.31,1.27],[-1.33,1.14],[-1.25,1.08],[-1.18,1.09],[-1.17,1.15],[-.94,1.24],[-.44,1.22],[-.3,1.27],[-.21,1.45],[-.67,1.52]],
  [[1.06,1.22],[1.13,1.31],[1.25,1.29],[1.29,1.18],[1.23,1.09],[1.13,1.1],[1.06,1.22]],
  [[1.03,1.08],[.91,.91],[1,.83],[1.12,.88],[1.23,.97],[1.25,1.08]],
  [[-.63,.23],[-.56,.28],[-.3,.29],[-.29,.17],[-.44,.14],[-.59,.17],[-.63,.23]]
];
const cPale = [
  [[-.53,1.02],[-.73,.97],[-.81,.82],[-.76,.63],[-.59,.5],[-.36,.44],[-.18,.31],[-.11,.13],[-.13,.04]],
  [[.09,.92],[.48,.69]],
  [[.64,.69],[.73,.74],[.83,.69],[.73,.63],[.64,.69]],
  [[.53,.59],[.61,.65],[.71,.59],[.61,.53],[.53,.59]],
  [[.81,.51],[.83,.38],[.7,.21],[.73,.13],[.81,.05]]
];
const cRed = [[[-.21,.72],[-.15,.75],[-.01,.72],[.08,.67],[.19,.61],[.25,.5],[.19,.39],[.05,.55],[-.13,.65],[-.21,.72]]];
const cSalmon = [[[-.41,.72],[-.3,.63],[-.07,.48],[.05,.29],[.16,.15],[.31,.17],[.42,.44],[.22,.67],[.05,.78]]];
const cPink = [[[-.53,.78],[-.41,.61],[-.13,.44],[.05,.17],[.13,.04]], [[.48,.04],[.51,.44],[.28,.67],[-.01,.84]]];

const dBlue = [
  [[-1.49,5],[-1.55,4.62],[-1.4,4.19],[-1.19,3.84]],
  [[-1.15,5],[-1.16,4.6]],
  [[-1.18,4.43],[-1.19,3.84]],
  [[-1.42,4.51],[-1.27,4.58],[-1.09,4.57],[-1.01,4.5],[-1.11,4.44],[-1.31,4.45],[-1.42,4.51]],
  [[.97,5],[1.04,4.62],[.92,4.24],[.75,3.67],[.43,3.24],[0,2.82],[-.28,3.08],[-.64,3.29],[-.95,3.46],[-1.17,3.29],[-1.44,3.05],[-1.76,2.77],[-1.98,2.48],[-2.02,2.15],[-1.98,1.87],[-1.62,1.63],[-1.17,1.44],[-1,1.16],[-.82,.79],[-.5,.61],[-.28,.59],[-.24,.87],[-.06,.99],[.25,.97],[.43,.68],[.5,.42],[.21,.21],[.43,.07],[.79,.07],[.43,.03]],
  [[-5,.36],[-3.77,.3],[-2.61,.25],[-1.71,.19],[-1.09,.11],[-.37,.04]],
  [[.55,1.89],[.66,1.95],[.81,1.89],[.86,1.8],[.75,1.77],[.61,1.82],[.55,1.89]],
  [[.97,2.01],[1.12,2.06],[.99,1.82],[.92,1.63],[.61,1.39],[.5,1.28],[.43,1.35],[.45,1.54],[.57,1.73]],
  [[3.4,5],[3.4,4.72],[3.27,4.53]],
  [[3.07,4.44],[3.19,4.51],[3.38,4.49],[3.44,4.43],[3.34,4.37],[3.16,4.38],[3.07,4.44]],
  [[3.28,4.35],[3.41,3.98],[3.28,3.2],[3.16,2.62],[2.85,2.7],[2.49,2.67],[2.27,2.49],[2.27,2.3],[2.58,2.16],[3.02,1.94],[3.34,2.06],[3.38,2.49],[4.01,2.34],[4.54,2.11],[5,2]]
];
const dPale = [[[2.78,.98],[2.85,.45],[3.07,.03]]];
const dPaleBlue = [[[2.29,1.05],[2.29,.58],[2.36,.03]]];
const dPink = [[[1.14,1.24],[.97,1.07],[.9,.9],[.94,.73],[1.12,.59],[1.35,.54],[1.61,.59],[1.77,.75],[1.8,.94],[1.74,1.15],[1.14,1.24]]];
const dSalmon = [[[1.26,1.17],[1.12,1.03],[1.06,.9],[1.12,.78],[1.26,.71],[1.41,.72],[1.55,.78],[1.64,.94],[1.61,1.11],[1.41,1.2],[1.26,1.17]]];

// green probe points
const aProbe = [[.315,4.875]];
const bProbe = [[1.37,.9]];
const cProbe = [[.33,4.88]];
const dProbe = [[1.36,.9]];

// page geometry of every plot and colour bar
const panels = [
  {left:140,top:89,width:1165,height:886,cbLeft:1376,cbWidth:46,bands:aBands,levels:aLevels,ticks:aTicks,cmap:RdBu_r,dec:null},
  {left:1785,top:88,width:1129,height:858,cbLeft:2984,cbWidth:44,bands:bBands,levels:bLevels,ticks:bTicks,cmap:RdBu_r,dec:1},
  {left:138,top:1440,width:1153,height:877,cbLeft:1362,cbWidth:46,bands:cBands,levels:cLevels,ticks:cTicks,cmap:PRGn,dec:1},
  {left:1785,top:1439,width:1142,height:867,cbLeft:2996,cbWidth:46,bands:dBands,levels:dLevels,ticks:dTicks,cmap:PRGn,dec:null}
];

function hex2rgb(h) {
  return [parseInt(h.slice(1,3),16), parseInt(h.slice(3,5),16), parseInt(h.slice(5,7),16)];
}
function sample(cmap, t) {
  let p = t * (cmap.length - 1), i = Math.min(Math.floor(p), cmap.length - 2), f = p - i;
  let a = hex2rgb(cmap[i]), b = hex2rgb(cmap[i + 1]);
  return 'rgb(' + a.map((v, k) => Math.round(v + (b[k] - v) * f)).join(',') + ')';
}
function bandColor(p, level) {
  let step = p.levels[1] - p.levels[0];
  let i = Math.round((level - p.levels[0]) / step);
  return sample(p.cmap, (i + 0.5) / p.levels.length);
}
function minus(v) {
  return String(v).replace('-', '\u2212');
}

const tickLine = {show:true, length:12, lineStyle:{color:'#666', width:3}};
const tickFont = {fontFamily:'DejaVu Sans', fontSize:47, color:'#222'};
const nameFont = {fontFamily:'DejaVu Sans', fontSize:55, fontWeight:'bold', fontStyle:'italic', color:'#111'};
// vertical tick labels sit a little under their ticks in the reference
const lowered = {v:Object.assign({padding:[10,0,0,0]}, tickFont)};

let grid = [], xAxis = [], yAxis = [], series = [];

panels.forEach(function (p, n) {
  let main = n * 2, cb = n * 2 + 1;
  grid.push({left:p.left, top:p.top, width:p.width, height:p.height, show:true, borderColor:'#666', borderWidth:3, backgroundColor:'#fff'});
  grid.push({left:p.cbLeft, top:p.top, width:p.cbWidth, height:p.height, show:true, borderColor:'#555', borderWidth:3});

  xAxis.push({gridIndex:main, type:'value', min:-5, max:5, name:'Z, mm', nameLocation:'middle', nameGap:82, nameTextStyle:nameFont,
    axisLine:{show:true, lineStyle:{color:'#333', width:3}}, splitLine:{show:false},
    axisTick:Object.assign({customValues:zTicks}, tickLine),
    axisLabel:Object.assign({customValues:zTicks, margin:26, formatter:minus}, tickFont)});
  yAxis.push({gridIndex:main, type:'value', min:0, max:5, name:'Y, mm', nameLocation:'middle', nameGap:70, nameRotate:90, nameTextStyle:nameFont,
    axisLine:{show:true, lineStyle:{color:'#333', width:3}}, splitLine:{show:false},
    axisTick:Object.assign({customValues:yTicks}, tickLine),
    axisLabel:Object.assign({customValues:yTicks, margin:22, rich:lowered, formatter:v => '{v|' + v + '}'}, tickFont)});

  let step = p.levels[1] - p.levels[0];
  xAxis.push({gridIndex:cb, type:'value', min:0, max:1, show:false});
  yAxis.push({gridIndex:cb, type:'value', position:'right', min:p.levels[0], max:p.levels[p.levels.length - 1] + step,
    axisLine:{show:false}, splitLine:{show:false},
    axisTick:Object.assign({customValues:p.ticks}, tickLine),
    axisLabel:Object.assign({customValues:p.ticks, margin:24, rich:lowered, formatter:function (v) {
      return '{v|' + minus(p.dec ? v.toFixed(p.dec) : v) + '}';
    }}, tickFont)});

  // filled bands
  series.push({type:'custom', xAxisIndex:main, yAxisIndex:main, clip:true, silent:true,
    data:p.bands.map((b, i) => [0, 0, i]),
    renderItem:function (params, api) {
      let band = p.bands[params.dataIndex];
      return {type:'polygon', shape:{points:band[1].map(c => api.coord(c)), smooth:band[1].length > 4 ? 0.35 : 0},
        style:{fill:bandColor(p, band[0])}};
    }});

  // colour bar cells
  series.push({type:'custom', xAxisIndex:cb, yAxisIndex:cb, silent:true,
    data:p.levels.map(l => [0, l]),
    renderItem:function (params, api) {
      let a = api.coord([0, api.value(1)]), b = api.coord([1, api.value(1) + step]);
      return {type:'rect', shape:{x:a[0], y:b[1], width:b[0] - a[0], height:a[1] - b[1]},
        style:{fill:bandColor(p, api.value(1))}};
    }});
});

function addLines(panel, lines, color, width) {
  lines.forEach(function (pts) {
    series.push({type:'line', xAxisIndex:panel * 2, yAxisIndex:panel * 2, data:pts, smooth:0.3, symbol:'none', silent:true,
      lineStyle:{color:color, width:width}});
  });
}
function addArrows(panel, arrows) {
  series.push({type:'scatter', xAxisIndex:panel * 2, yAxisIndex:panel * 2, data:arrows, silent:true,
    symbol:'triangle', symbolSize:[17, 19], symbolRotate:v => v[2], itemStyle:{color:'#000'}});
}
function addProbe(panel, pts, size) {
  series.push({type:'scatter', xAxisIndex:panel * 2, yAxisIndex:panel * 2, data:pts, silent:true,
    symbol:'circle', symbolSize:size, itemStyle:{color:'#0b8a0b'}});
}
function addLabel(panel, z, y, text, color, size, rotate) {
  series.push({type:'scatter', xAxisIndex:panel * 2, yAxisIndex:panel * 2, data:[[z, y]], silent:true, symbolSize:0,
    label:{show:true, position:'inside', formatter:text, color:color, fontFamily:'DejaVu Sans', fontSize:size, rotate:rotate || 0}});
}

addLines(0, aStreams, '#000', 3.5);
addArrows(0, aArrows);
addProbe(0, aProbe, 22);
addLines(1, bStreams, '#000', 3.5);
addArrows(1, bArrows);
addProbe(1, bProbe, 22);

addLines(2, cPale, '#8f97e2', 3.5);
addLines(2, cPink, '#f6b8b8', 3.5);
addLines(2, cSalmon, '#f07c7c', 3.5);
addLines(2, cRed, '#e63a44', 4);
addLines(2, cBlue, '#5a5ae8', 4.5);
addLabel(2, -.27, .81, '32', '#ee8f8f', 50);
addProbe(2, cProbe, 22);

addLines(3, dPale, '#e3dff2', 3.5);
addLines(3, dPaleBlue, '#c4d6ee', 3.5);
addLines(3, dPink, '#f6c0b0', 4);
addLines(3, dSalmon, '#ef7f6c', 4);
addLines(3, dBlue, '#6a84e8', 4.5);
addLabel(3, 1.42, 1.35, '30', '#e8dcea', 52);
addLabel(3, 1.85, 1.47, '75', '#e4dff0', 44, -45);
addLabel(3, 2.56, 1.17, '15', '#bcd3e8', 48);
addProbe(3, dProbe, 22);

// headings, colour bar names, sub-figure letters
const headings = [[720,49],[2348,48],[714,1402],[2356,1399]];
const barNames = [[1423,51,'\u0394U\u2093, m/s'],[3079,49,'\u0394U\u2093, m/s'],[1427,1402,'\u0394P, Pa'],[3077,1402,'\u0394P, Pa']];
const letters = [[775,1226,'a'],[2423,1226,'b'],[775,2566,'c'],[2423,2566,'d']];

let titles = [];
headings.forEach(h => titles.push({text:'X=130.0 mm', left:h[0], top:h[1], textAlign:'center', textVerticalAlign:'middle',
  textStyle:{fontFamily:'DejaVu Sans', fontSize:62, fontWeight:'bold', fontStyle:'italic', color:'#111'}}));
barNames.forEach(h => titles.push({text:h[2], left:h[0], top:h[1], textAlign:'center', textVerticalAlign:'middle',
  textStyle:{fontFamily:'DejaVu Sans', fontSize:46, fontStyle:'italic', fontWeight:'normal', color:'#222'}}));
letters.forEach(h => titles.push({text:'{p|(}{b|' + h[2] + '}{p|)}', left:h[0], top:h[1], textAlign:'center', textVerticalAlign:'middle',
  textStyle:{fontFamily:'Liberation Serif', fontSize:76, fontWeight:'normal', color:'#000', rich:{
    p:{fontFamily:'Liberation Serif', fontSize:76, fontWeight:'normal', color:'#000'},
    b:{fontFamily:'Liberation Serif', fontSize:76, fontWeight:'bold', color:'#000'}
  }}}));

const chart = echarts.init(document.getElementById('main'));
chart.setOption({
  backgroundColor:'#fff',
  animation:false,
  title:titles,
  grid:grid,
  xAxis:xAxis,
  yAxis:yAxis,
  series:series
});
</script>
</body>
</html>
